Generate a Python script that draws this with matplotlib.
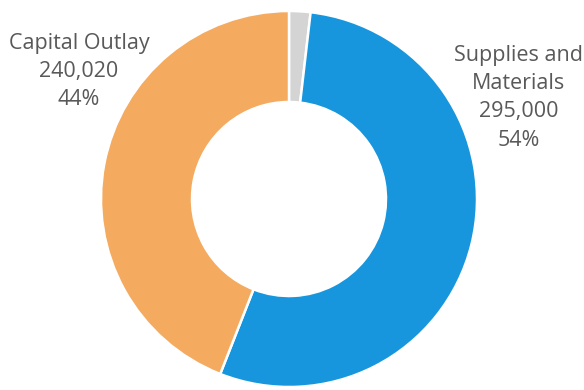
import matplotlib
matplotlib.use("Agg")
import matplotlib.pyplot as plt

labels = ["Other", "Supplies and\nMaterials", "Capital Outlay"]
amounts = [10000, 295000, 240020]
colors = ["#D4D4D4", "#1796DE", "#F4AA5F"]

total = sum(amounts)

fig = plt.figure(figsize=(5.84, 3.90), dpi=100)
ax = fig.add_axes([0, 0, 1, 1])

ax.pie(amounts, colors=colors, startangle=90, counterclock=False,
       center=(289, 191), radius=188, frame=True,
       wedgeprops=dict(width=91, edgecolor="white", linewidth=1.8))
ax.set_xlim(0, 584)
ax.set_ylim(0, 390)
ax.set_aspect("equal")
ax.axis("off")

def label_text(i):
    return "{}\n{:,}\n{:.0f}%".format(labels[i], amounts[i], amounts[i] / total * 100)

txt = dict(color="#595959", fontsize=15.5, family="Open Sans",
           ha="center", va="top", linespacing=1.45)
ax.text(79, 390 - 33, label_text(2), **txt)
ax.text(519, 390 - 45, label_text(1), **txt)

fig.savefig("out.png", dpi=100)
